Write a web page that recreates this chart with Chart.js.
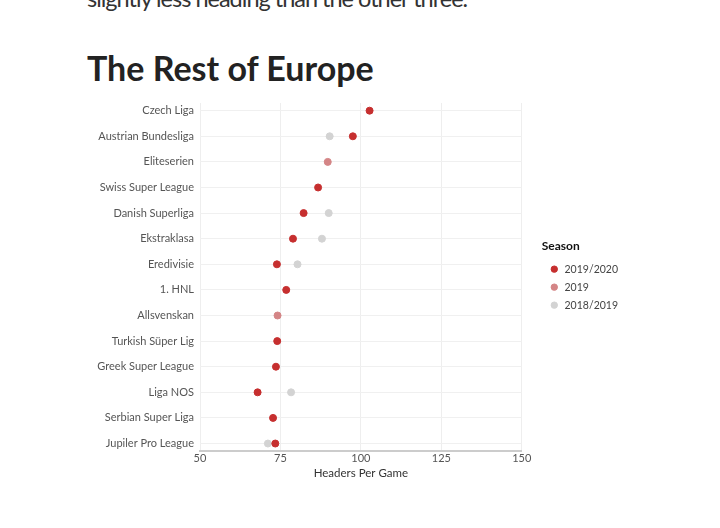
<!DOCTYPE html>
<html>
<head>
<meta charset="utf-8">
<script src="https://cdn.jsdelivr.net/npm/chart.js@4.4.0/dist/chart.umd.min.js"></script>
<style>
  body { margin: 0; background: #fff; width: 720px; height: 528px; overflow: hidden; position: relative; font-family: Lato, sans-serif; }
  .intro { position: absolute; left: 87px; top: -14px; font-size: 23.5px; line-height: 24px; letter-spacing: -1px; color: #333; margin: 0; white-space: nowrap; }
  h2 { position: absolute; left: 87px; top: 47px; margin: 0; font-size: 34px; font-weight: 700; color: #222; }
  #wrap { position: absolute; left: 0; top: 0; width: 720px; height: 528px; }
</style>
</head>
<body>
<p class="intro">slightly less heading than the other three.</p>
<h2>The Rest of Europe</h2>
<div id="wrap"><canvas id="chart"></canvas></div>
<script>
const leagues = ['Czech Liga', 'Austrian Bundesliga', 'Eliteserien', 'Swiss Super League', 'Danish Superliga',
  'Ekstraklasa', 'Eredivisie', '1. HNL', 'Allsvenskan', 'Turkish Süper Lig', 'Greek Super League',
  'Liga NOS', 'Serbian Super Liga', 'Jupiler Pro League'];
const seasons = ['2019/2020', '2019', '2018/2019'];
const headers1920 = [102.7, 97.5, null, 86.7, 82.2, 78.9, 73.9, 76.8, null, 74.0, 73.6, 67.9, 72.7, 73.4];
const headers19 = [null, null, 89.7, null, null, null, null, null, 74.1, null, null, null, null, null];
const headers1819 = [null, 90.3, null, null, 90.0, 87.9, 80.3, null, null, null, null, 78.3, null, 71.1];
const xTicks = [50, 75, 100, 125, 150];

const colors = ['#c62f2f', '#d48586', '#d3d3d3'];

function points(values) {
  return values.map((v, i) => v == null ? null : { x: v, y: i }).filter(p => p);
}

const ctx = document.getElementById('chart');
new Chart(ctx, {
  type: 'scatter',
  data: {
    datasets: [headers1920, headers19, headers1819].map((vals, i) => ({
      label: seasons[i],
      data: points(vals),
      backgroundColor: colors[i],
      borderColor: colors[i],
      pointRadius: 3.5,
      pointHoverRadius: 4
    }))
  },
  options: {
    responsive: true,
    maintainAspectRatio: false,
    animation: false,
    layout: { padding: { left: 90, top: 103, right: 92, bottom: 48 } },
    plugins: {
      tooltip: { enabled: false },
      legend: {
        position: 'right',
        align: 'start',
        labels: {
          usePointStyle: true,
          pointStyle: 'circle',
          boxWidth: 10,
          boxHeight: 4.5,
          padding: 7.5,
          color: '#444',
          font: { family: 'Lato', size: 10.5 }
        },
        title: {
          display: true,
          text: 'Season',
          position: 'start',
          color: '#111',
          padding: { top: 137, bottom: 2 },
          font: { family: 'Lato', size: 12, weight: 'bold' }
        }
      }
    },
    scales: {
      x: {
        type: 'linear',
        min: 50,
        max: 150,
        afterBuildTicks: (scale) => { scale.ticks = xTicks.map(v => ({ value: v })); },
        grid: { color: '#eeeeee', drawTicks: false },
        border: { display: true, color: '#cccccc', width: 2 },
        ticks: { color: '#555', padding: 2, font: { family: 'Lato', size: 11, lineHeight: 1 } },
        title: { display: true, text: 'Headers Per Game', color: '#333', padding: { top: 0, bottom: 0 }, font: { family: 'Lato', size: 11.5 } }
      },
      y: {
        type: 'linear',
        reverse: true,
        min: -0.3,
        max: 13.3,
        afterBuildTicks: (scale) => { scale.ticks = leagues.map((l, i) => ({ value: i })); },
        afterFit: (scale) => { scale.width = 110; },
        grid: { color: '#f0f0f0', drawTicks: false },
        border: { display: false },
        ticks: {
          color: '#555',
          padding: 6,
          font: { family: 'Lato', size: 11 },
          callback: (v) => leagues[v]
        }
      },
      gap: {
        type: 'linear',
        position: 'right',
        display: true,
        grid: { display: false },
        border: { display: false },
        ticks: { display: false },
        afterFit: (scale) => { scale.width = 20; }
      }
    }
  }
});
</script>
</body>
</html>
